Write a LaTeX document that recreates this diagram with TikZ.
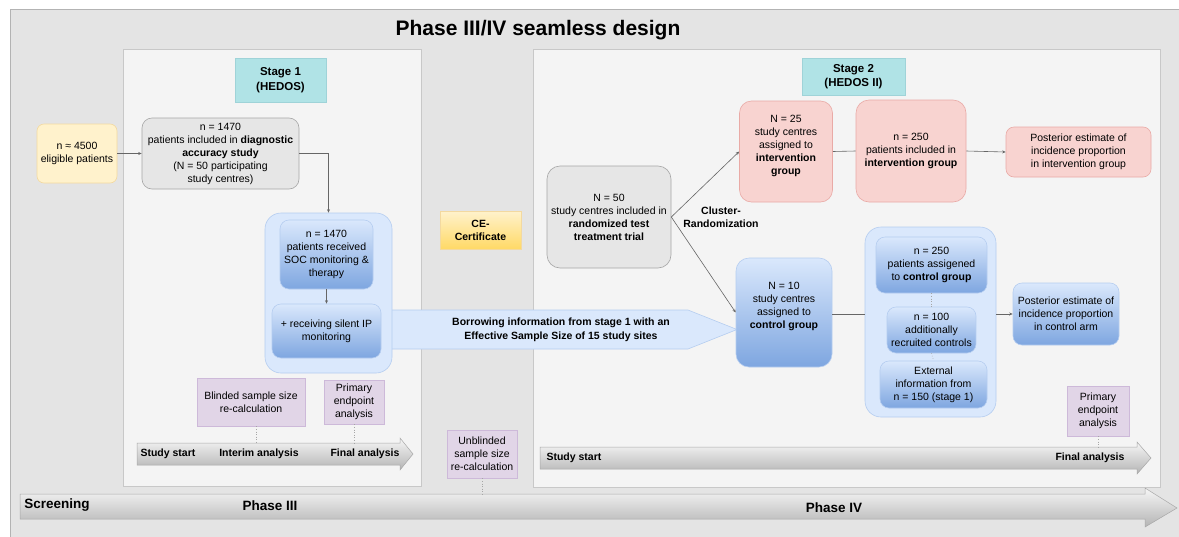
\documentclass[tikz,border=0pt]{standalone}
\usepackage{fontspec}
\setmainfont{Liberation Sans}
\usetikzlibrary{arrows.meta}
\definecolor{outerbg}{HTML}{E4E4E4}
\definecolor{outerb}{HTML}{B3B3B3}
\definecolor{panelbg}{HTML}{F4F4F4}
\definecolor{panelb}{HTML}{C8C8C8}
\definecolor{teal}{HTML}{B0E3E6}
\definecolor{tealb}{HTML}{9FD3D8}
\definecolor{ylw}{HTML}{FFF2CC}
\definecolor{ylwb}{HTML}{F3D9A0}
\definecolor{ylwdark}{HTML}{FFD966}
\definecolor{gry}{HTML}{E6E6E6}
\definecolor{gryb}{HTML}{A6A6A6}
\definecolor{pnk}{HTML}{F8D3D0}
\definecolor{pnkb}{HTML}{E9AAA6}
\definecolor{lblue}{HTML}{DAE8FC}
\definecolor{lblueb}{HTML}{B5CDF0}
\definecolor{dblue}{HTML}{7EA6E0}
\definecolor{prp}{HTML}{E1D5E7}
\definecolor{prpb}{HTML}{CDB9D9}
\definecolor{tltop}{HTML}{F6F6F6}
\definecolor{tlbot}{HTML}{B4B4B4}
\definecolor{tlb}{HTML}{A8A8A8}
\definecolor{conncol}{HTML}{666666}
\tikzset{
  every node/.style={font=\fontsize{10.5}{13}\selectfont, text=black, inner sep=0pt, align=center},
  box/.style={rounded corners=7pt},
  ybox/.style={box, fill=ylw, draw=ylwb, line width=0.6pt},
  gbox/.style={box, fill=gry, draw=gryb, line width=0.6pt},
  pbox/.style={box, fill=pnk, draw=pnkb, line width=0.6pt},
  bcont/.style={rounded corners=16pt, fill=lblue, draw=lblueb, line width=0.6pt},
  bgrad/.style={box, top color=lblue, bottom color=dblue, draw=lblueb, line width=0.6pt},
  purp/.style={fill=prp, draw=prpb, line width=0.6pt},
  stagelbl/.style={fill=teal, draw=tealb, line width=0.6pt, font=\fontsize{11.5}{14.5}\selectfont\bfseries},
  cebox/.style={top color=ylw, bottom color=ylwdark, draw=ylwb, line width=0.6pt, font=\fontsize{10.5}{13}\selectfont\bfseries},
  panel/.style={fill=panelbg, draw=panelb, line width=0.7pt},
  tlarrow/.style={top color=tltop, bottom color=tlbot, draw=tlb, line width=0.5pt},
  conn/.style={draw=conncol, line width=0.6pt, -{Stealth[length=3.5pt,width=3pt]}},
  plain/.style={draw=conncol, line width=0.6pt},
  dotc/.style={draw=black!35, line width=0.6pt, dotted},
  tllbl/.style={font=\fontsize{10.5}{13}\selectfont\bfseries},
  phlbl/.style={font=\fontsize{13.5}{16}\selectfont\bfseries},
}
\begin{document}
\begin{tikzpicture}[x=1pt,y=-1pt]
\useasboundingbox (0,0) rectangle (1179,536);
\fill[white] (0,0) rectangle (1179,536);
% outer frame
\path[fill=outerbg, draw=outerb, line width=0.8pt] (10,9) rectangle (1190,550);
\node[font=\fontsize{21}{25}\selectfont\bfseries] (title) at (538,30) {Phase III/IV seamless design};
% panels
\path[panel] (123,49) rectangle (421,486);
\path[panel] (533,49) rectangle (1160,487);
% screening arrow
\path[tlarrow] (20,494) -- (1145,494) -- (1145,488) -- (1177,508) -- (1145,527) -- (1145,519) -- (20,519) -- cycle;
\node[phlbl] (scr) at (57,505) {Screening};
\node[phlbl] (ph3) at (270,506) {Phase III};
\node[phlbl] (ph4) at (834,508) {Phase IV};
\coordinate (scrtop) at (0,494);
% stage 1 timeline
\path[tlarrow] (137,443) -- (400,443) -- (400,438) -- (413,454) -- (400,470) -- (400,465) -- (137,465) -- cycle;
\node[tllbl] (ss1) at (168,454) {Study start};
\node[tllbl] (ia1) at (259,454) {Interim analysis};
\node[tllbl] (fa1) at (365,454) {Final analysis};
\coordinate (tl1top) at (0,443);
% stage 2 timeline
\path[tlarrow] (540,447) -- (1137,447) -- (1137,442) -- (1151,458) -- (1137,474) -- (1137,469) -- (540,469) -- cycle;
\node[tllbl] (ss2) at (574,458) {Study start};
\node[tllbl] (fa2) at (1090,458) {Final analysis};
\coordinate (tl2top) at (0,447);
% borrowing arrow
\path[fill=lblue, draw=lblueb, line width=0.6pt] (385,310) -- (688,310) -- (737,329.5) -- (688,349) -- (385,349) -- cycle;
\node[font=\fontsize{10.5}{13.5}\selectfont\bfseries] (borrow) at (561,330) {Borrowing information from stage 1 with an\\Effective Sample Size of 15 study sites};
% stage labels
\node[stagelbl, minimum width=91, minimum height=44] (st1) at (280.5,80) {Stage 1\\(HEDOS)};
\node[stagelbl, minimum width=103, minimum height=37] (st2) at (853.5,76.5) {Stage 2\\(HEDOS II)};
% stage 1 nodes
\node[ybox, minimum width=80, minimum height=59] (n4500) at (77,153.5) {n ≈ 4500\\eligible patients};
\node[gbox, rounded corners=10pt, minimum width=157, minimum height=71] (n1470) at (220.5,153.5) {n = 1470\\patients included in \textbf{diagnostic}\\\textbf{accuracy study}\\(N = 50 participating\\study centres)};
\node[bcont, minimum width=127, minimum height=160] (cont1) at (328.5,293) {};
\node[bgrad, rounded corners=9pt, minimum width=93, minimum height=69] (soc) at (326.5,254.5) {n = 1470\\patients received\\SOC monitoring \&\\therapy};
\node[bgrad, rounded corners=9pt, minimum width=109, minimum height=54] (silent) at (326.5,331) {+ receiving silent IP\\monitoring};
\node[purp, minimum width=108, minimum height=48] (blinded) at (251,402) {Blinded sample size\\re-calculation};
\node[purp, minimum width=60, minimum height=44] (prim1) at (354,402) {Primary\\endpoint\\analysis};
% middle
\node[cebox, minimum width=81, minimum height=38] (ce) at (480.5,230) {CE-\\Certificate};
\node[purp, minimum width=70, minimum height=48] (unbl) at (482,454) {Unblinded\\sample size\\re-calculation};
% stage 2 nodes
\node[gbox, rounded corners=13pt, minimum width=124, minimum height=102] (n50) at (609,217) {N = 50\\study centres included in\\\textbf{randomized test}\\\textbf{treatment trial}};
\node[font=\fontsize{10.5}{12.5}\selectfont\bfseries] (clr) at (721,217) {Cluster-\\Randomization};
\node[pbox, rounded corners=12pt, minimum width=93, minimum height=101, text depth=12.5pt] (n25) at (786,151.5) {N = 25\\study centres\\assigned to\\\textbf{intervention}\\\textbf{group}};
\node[pbox, rounded corners=13pt, minimum width=110, minimum height=102] (n250i) at (911,151) {n = 250\\patients included in\\\textbf{intervention group}};
\node[pbox, rounded corners=8pt, minimum width=145, minimum height=50] (posti) at (1078.5,152) {Posterior estimate of\\incidence proportion\\in intervention group};
\node[bgrad, rounded corners=13pt, minimum width=96, minimum height=109, text depth=14.5pt] (n10) at (784,312.5) {N = 10\\study centres\\assigned to\\\textbf{control group}};
\node[bcont, minimum width=131, minimum height=190] (cont2) at (930.5,322) {};
\node[bgrad, rounded corners=9pt, minimum width=111, minimum height=56] (n250c) at (931.5,265) {n = 250\\patients assigened\\to \textbf{control group}};
\node[bgrad, rounded corners=9pt, minimum width=89, minimum height=46] (n100) at (931.5,330) {n = 100\\additionally\\recruited controls};
\node[bgrad, rounded corners=9pt, minimum width=107, minimum height=47] (ext) at (933.5,384.5) {External\\information from\\n = 150 (stage 1)};
\node[bgrad, rounded corners=9pt, minimum width=106, minimum height=62] (postc) at (1066,314) {Posterior estimate of\\incidence proportion\\in control arm};
\node[purp, minimum width=62, minimum height=50] (prim2) at (1098,411) {Primary\\endpoint\\analysis};
% connectors
\draw[conn] (n4500.east) -- (n1470.west);
\draw[conn] (n1470.east) -| (cont1.north);
\draw[conn] (soc.south) -- (silent.north);
\draw[conn] (n50.east) -- (n25.west);
\draw[conn] (n50.east) -- (n10.west);
\draw[plain] (n25.east) -- (n250i.west);
\draw[conn] (n250i.east) -- (posti.west);
\draw[plain] (n10.east |- postc.west) -- (cont2.west |- postc.west);
\draw[conn] (cont2.east |- postc.west) -- (postc.west);
\draw[dotc] (n250c.south) -- (n100.north);
\draw[dotc] (n100.south) -- (ext.north);
\draw[dotc] ([xshift=5pt]blinded.south) -- ([xshift=5pt]blinded.south |- tl1top);
\draw[dotc] (prim1.south) -- (prim1.south |- tl1top);
\draw[dotc] (prim2.south) -- (prim2.south |- tl2top);
\draw[dotc] (unbl.south) -- (unbl.south |- scrtop);
\end{tikzpicture}
\end{document}
